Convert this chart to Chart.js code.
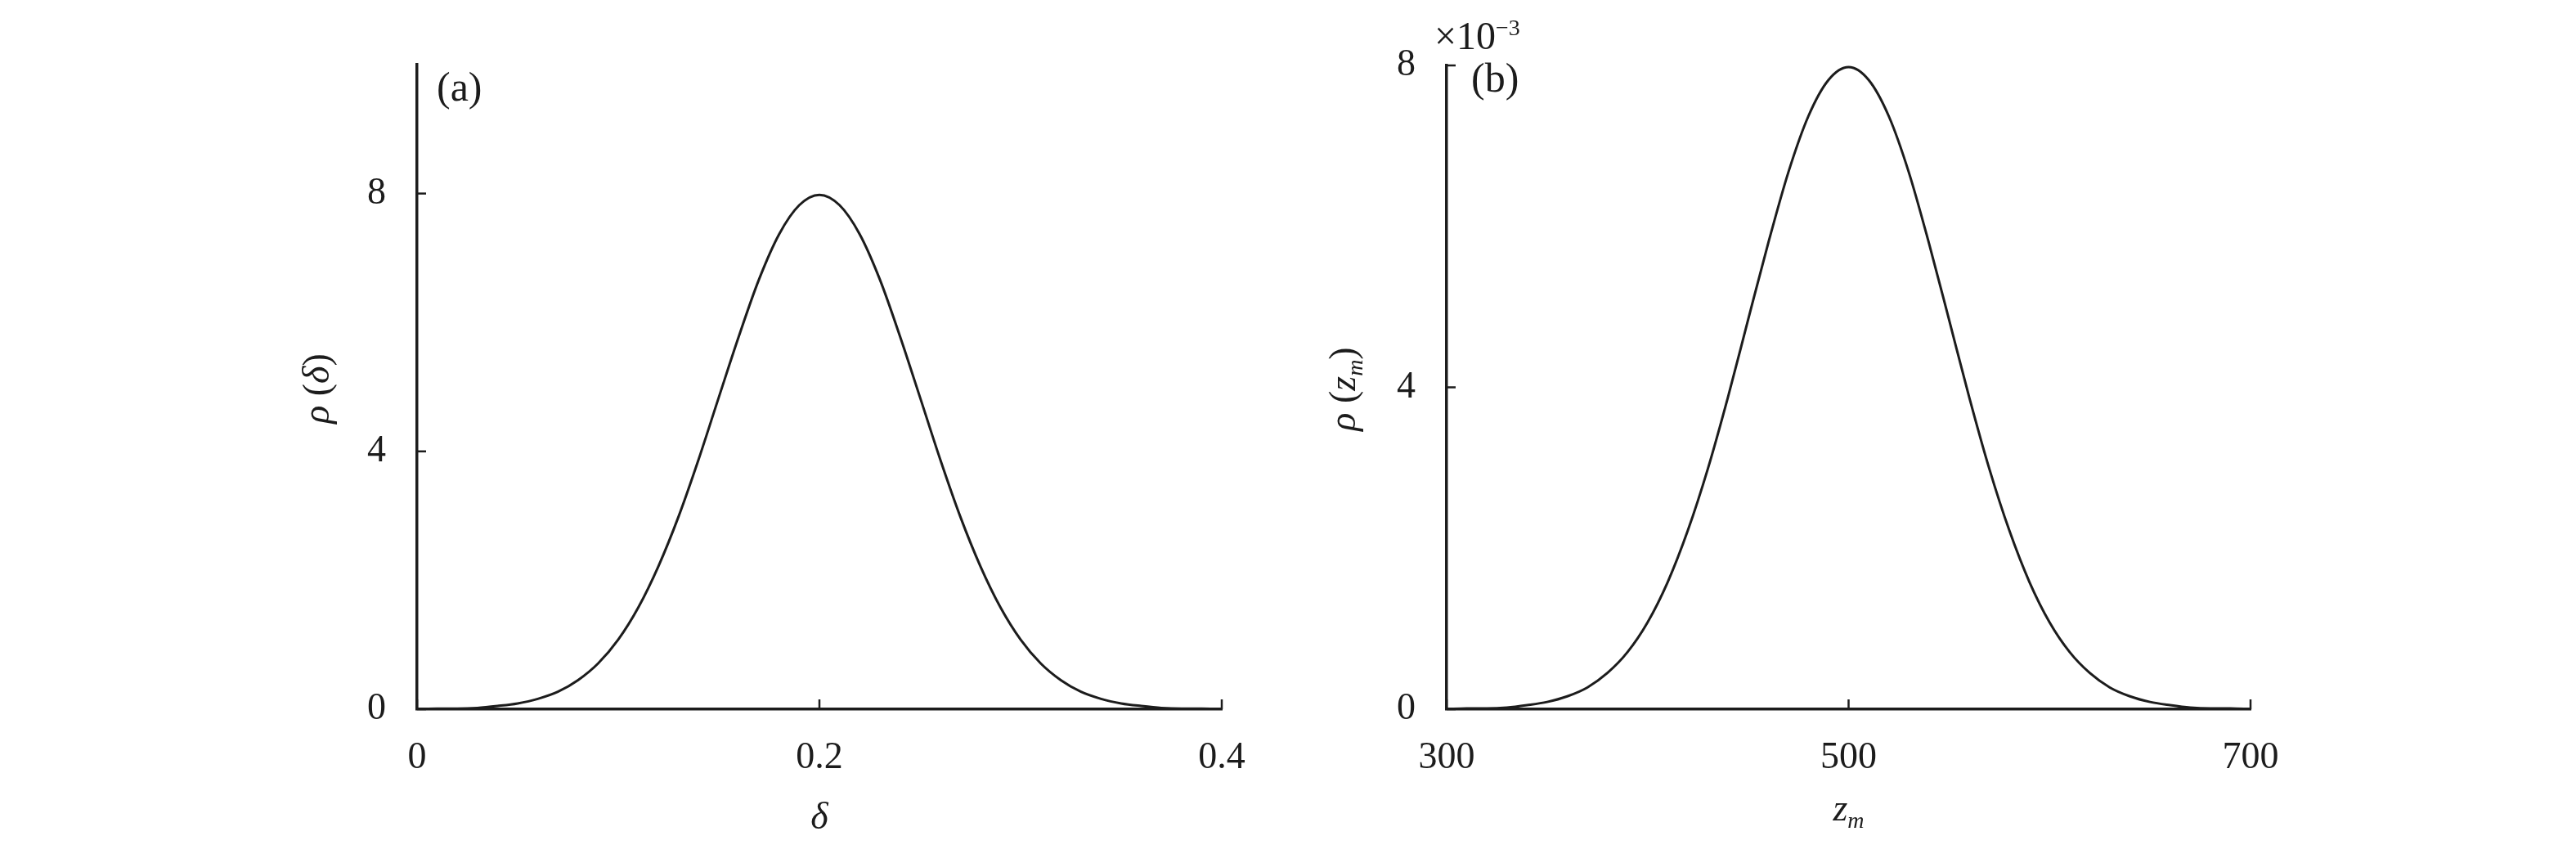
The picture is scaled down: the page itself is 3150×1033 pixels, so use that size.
<!DOCTYPE html>
<html><head><meta charset="utf-8">
<script src="https://cdn.jsdelivr.net/npm/chart.js@4.4.1/dist/chart.umd.min.js"></script>
<style>
html,body{margin:0;padding:0;background:#fff;}
#wrap{position:relative;width:3150px;height:1033px;background:#fff;}
.c{position:absolute;top:0;width:1575px;height:1033px;}
</style></head><body>
<div id="wrap">
<div class="c" style="left:0"><canvas id="ca"></canvas></div>
<div class="c" style="left:1575px"><canvas id="cb"></canvas></div>
</div>
<script>
// ---- data ----
const deltaValues = [0,0.01,0.02,0.03,0.04,0.05,0.06,0.07,0.08,0.09,0.10,0.11,0.12,0.13,0.14,0.15,0.16,0.17,0.18,0.19,0.20,
                     0.21,0.22,0.23,0.24,0.25,0.26,0.27,0.28,0.29,0.30,0.31,0.32,0.33,0.34,0.35,0.36,0.37,0.38,0.39,0.40];
const rhoDelta = [0.00,0.01,0.01,0.02,0.05,0.09,0.16,0.27,0.45,0.71,1.08,1.58,2.22,2.99,3.88,4.84,5.79,6.67,7.37,7.82,7.98,
                  7.82,7.37,6.67,5.79,4.84,3.88,2.99,2.22,1.58,1.08,0.71,0.45,0.27,0.16,0.09,0.05,0.02,0.01,0.01,0.00];
const zmValues = [300,310,320,330,340,350,360,370,380,390,400,410,420,430,440,450,460,470,480,490,500,
                  510,520,530,540,550,560,570,580,590,600,610,620,630,640,650,660,670,680,690,700];
// rho(z_m) in units of 1e-3
const rhoZm = [0.00,0.01,0.01,0.02,0.05,0.09,0.16,0.27,0.45,0.71,1.08,1.58,2.22,2.99,3.88,4.84,5.79,6.67,7.37,7.82,7.98,
               7.82,7.37,6.67,5.79,4.84,3.88,2.99,2.22,1.58,1.08,0.71,0.45,0.27,0.16,0.09,0.05,0.02,0.01,0.01,0.00];
const xTicksA = [0, 0.2, 0.4];
const xTickLabelsA = ["0", "0.2", "0.4"];
const yTicksA = [0, 4, 8];
const yTickLabelsA = ["0", "4", "8"];
const xTicksB = [300, 500, 700];
const xTickLabelsB = ["300", "500", "700"];
const yTicksB = [0, 4, 8];
const yTickLabelsB = ["0", "4", "8"];

const SERIF = "'Liberation Serif','Times New Roman',serif";
const INK = '#1c1c1c';

function drawParts(ctx, parts, x, y, align) {
  let total = 0;
  parts.forEach(p => { ctx.font = p.f; p.w = ctx.measureText(p.t).width; total += p.w; });
  let cx = align === 'center' ? x - total / 2 : x;
  parts.forEach(p => { ctx.font = p.f; ctx.fillText(p.t, cx, y + (p.dy || 0)); cx += p.w; });
}

function makeChart(id, xs, ys, cfg) {
  const pts = xs.map((x, i) => ({x: x, y: ys[i]}));
  const inward = {
    id: 'inwardTicks',
    afterDraw(chart) {
      const ctx = chart.ctx, a = chart.chartArea;
      const sx = chart.scales.x, sy = chart.scales.y;
      ctx.save();
      ctx.strokeStyle = INK; ctx.lineWidth = 2.5;
      cfg.xTicks.forEach(v => {
        const px = sx.getPixelForValue(v);
        ctx.beginPath(); ctx.moveTo(px, a.bottom); ctx.lineTo(px, a.bottom - 12); ctx.stroke();
      });
      cfg.yTicks.forEach(v => {
        const py = sy.getPixelForValue(v);
        ctx.beginPath(); ctx.moveTo(a.left, py); ctx.lineTo(a.left + 11, py); ctx.stroke();
      });
      ctx.fillStyle = INK;
      ctx.textBaseline = 'alphabetic';
      ctx.textAlign = 'left';
      ctx.font = '50px ' + SERIF;
      ctx.fillText(cfg.panel, a.left + cfg.panelDx, a.top + cfg.panelDy);
      if (cfg.exponent) {
        drawParts(ctx, [
          {t: '\u00d710', f: '48px ' + SERIF},
          {t: '\u22123', f: '28px ' + SERIF, dy: -17}
        ], a.left - 15, a.top - 20, 'left');
      }
      drawParts(ctx, cfg.xTitle, (a.left + a.right) / 2, a.bottom + cfg.xTitleDy, 'center');
      ctx.save();
      ctx.translate(cfg.yTitleX, (a.top + a.bottom) / 2 + 2);
      ctx.rotate(-Math.PI / 2);
      drawParts(ctx, cfg.yTitle, 0, 0, 'center');
      ctx.restore();
      ctx.restore();
    }
  };
  return new Chart(document.getElementById(id), {
    type: 'line',
    data: { datasets: [{
      data: pts, borderColor: INK, borderWidth: 3, pointRadius: 0,
      cubicInterpolationMode: 'monotone', fill: false
    }]},
    options: {
      responsive: true, maintainAspectRatio: false, animation: false, devicePixelRatio: 1,
      layout: { padding: { left: 0, top: cfg.padTop, right: cfg.padRight, bottom: 0 } },
      plugins: { legend: { display: false }, tooltip: { enabled: false }, title: { display: false } },
      scales: {
        x: {
          type: 'linear', min: cfg.xMin, max: cfg.xMax,
          afterFit(s) { s.height = 166; },
          afterBuildTicks(s) { s.ticks = cfg.xTicks.map(v => ({value: v})); },
          grid: { display: false, drawTicks: false },
          border: { display: true, color: INK, width: 3.5 },
          ticks: {
            padding: 32, color: INK, maxRotation: 0, autoSkip: false,
            font: { family: SERIF, size: 46 },
            callback: (v) => cfg.xLabels[cfg.xTicks.indexOf(v)] ?? ''
          }
        },
        y: {
          type: 'linear', min: 0, max: cfg.yMax,
          afterFit(s) { s.width = cfg.yWidth; },
          afterBuildTicks(s) { s.ticks = cfg.yTicks.map(v => ({value: v})); },
          grid: { display: false, drawTicks: false },
          border: { display: true, color: INK, width: 3.5 },
          ticks: {
            padding: 38, color: INK, autoSkip: false,
            font: { family: SERIF, size: 46 },
            callback: (v) => cfg.yLabels[cfg.yTicks.indexOf(v)] ?? ''
          }
        }
      }
    },
    plugins: [inward]
  });
}

makeChart('ca', deltaValues, rhoDelta, {
  xMin: 0, xMax: 0.4, yMax: 10, xTicks: xTicksA, yTicks: yTicksA,
  xLabels: xTickLabelsA, yLabels: yTickLabelsA,
  padTop: 79, padRight: 81, yWidth: 510,
  panel: '(a)', panelDx: 24, panelDy: 44, exponent: false,
  xTitle: [{t: '\u03b4', f: 'italic 46px ' + SERIF}], xTitleDy: 146,
  yTitleX: 402,
  yTitle: [{t: '\u03c1', f: 'italic 46px ' + SERIF}, {t: ' (', f: '46px ' + SERIF},
           {t: '\u03b4', f: 'italic 46px ' + SERIF}, {t: ')', f: '46px ' + SERIF}]
});

makeChart('cb', zmValues, rhoZm, {
  xMin: 300, xMax: 700, yMax: 8, xTicks: xTicksB, yTicks: yTicksB,
  xLabels: xTickLabelsB, yLabels: yTickLabelsB,
  padTop: 80, padRight: 398, yWidth: 194,
  panel: '(b)', panelDx: 30, panelDy: 32, exponent: true,
  xTitle: [{t: 'z', f: 'italic 46px ' + SERIF}, {t: 'm', f: 'italic 28px ' + SERIF, dy: 9}], xTitleDy: 136,
  yTitleX: 1657 - 1575,
  yTitle: [{t: '\u03c1', f: 'italic 46px ' + SERIF}, {t: ' (', f: '46px ' + SERIF},
           {t: 'z', f: 'italic 46px ' + SERIF}, {t: 'm', f: 'italic 28px ' + SERIF, dy: 9},
           {t: ')', f: '46px ' + SERIF}]
});
</script>
</body></html>
